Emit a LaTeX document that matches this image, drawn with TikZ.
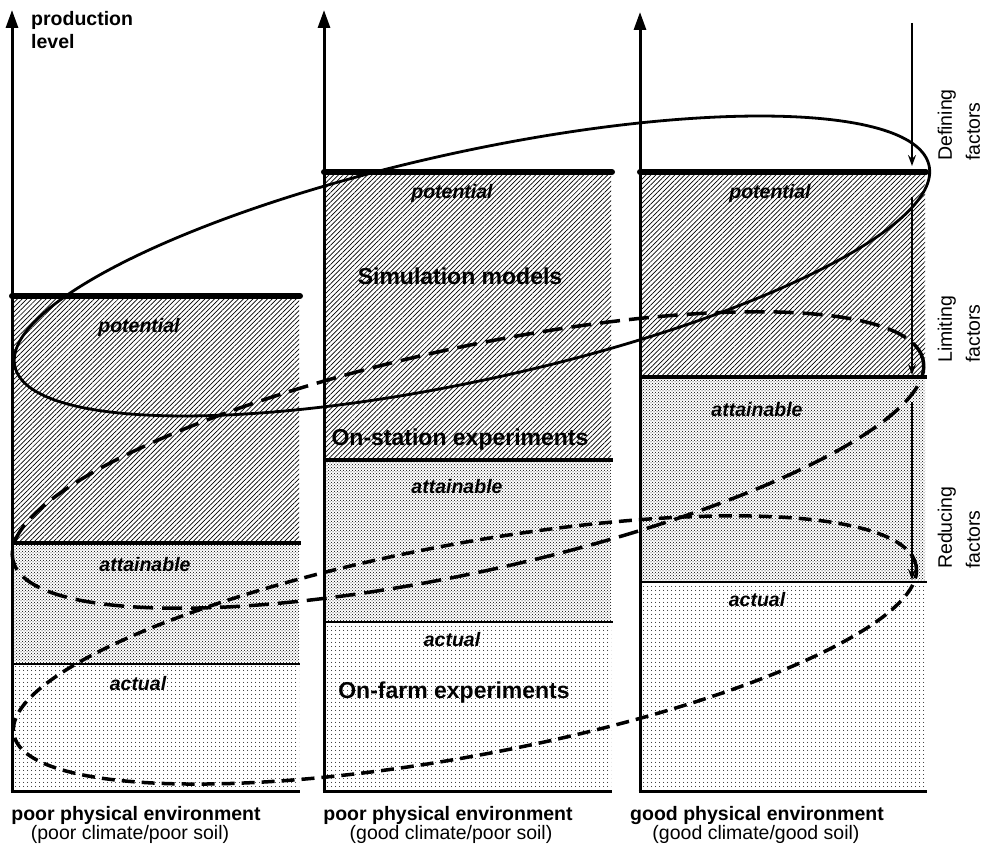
\documentclass[tikz,border=0pt]{standalone}
\usepackage{fontspec}
\setmainfont{Liberation Sans}
\usetikzlibrary{patterns,patterns.meta,arrows.meta}
\begin{document}
\begin{tikzpicture}[x=1pt,y=-1pt,
  lab/.style={font=\fontsize{19.5}{22}\selectfont\bfseries\itshape, inner sep=0},
  big/.style={font=\fontsize{23}{26}\selectfont\bfseries, inner sep=0},
  envb/.style={font=\fontsize{19.5}{22}\selectfont\bfseries, inner sep=0},
  envr/.style={font=\fontsize{19.5}{22}\selectfont, inner sep=0},
  side/.style={font=\fontsize{19.5}{28}\selectfont, rotate=90, anchor=west, align=left, inner sep=0},
  axisline/.style={line width=3pt, -{Triangle[length=18pt,width=12pt]}},
  potl/.style={line width=6pt, line cap=round},
  attl/.style={line width=4pt},
  actl/.style={line width=1.8pt},
  basel/.style={line width=3pt},
  hatch/.style={pattern={Lines[angle=45,distance=3.4pt,line width=0.7pt]}},
  densedots/.style={pattern=crosshatch dots},
  sparsedots/.style={pattern={Dots[distance=4pt,radius=0.6pt]}},
  factorarrow/.style={line width=2pt, -{Stealth[length=11pt,width=8pt,inset=4pt]}},
  solidell/.style={line width=2.8pt},
  longdash/.style={line width=3.5pt, dash pattern=on 20pt off 9pt},
  shortdash/.style={line width=3.5pt, dash pattern=on 13pt off 7pt},
]
\useasboundingbox (0,0) rectangle (983,850);

% ---------- fills ----------
% panel 1
\fill[hatch]      (12,296) rectangle (299,543);
\fill[densedots]  (12,543) rectangle (299,664);
\fill[sparsedots] (12,664) rectangle (299,791);
% panel 2
\fill[hatch]      (324,172) rectangle (611,460);
\fill[densedots]  (324,460) rectangle (611,622);
\fill[sparsedots] (324,622) rectangle (611,791);
% panel 3
\fill[hatch]      (640,172) rectangle (925,377);
\fill[densedots]  (640,377) rectangle (925,582);
\fill[sparsedots] (640,582) rectangle (925,791);

% ---------- axes ----------
\coordinate (a1b) at (12,791);  \coordinate (a1t) at (12,10);
\coordinate (a2b) at (324,791); \coordinate (a2t) at (324,10);
\coordinate (a3b) at (640,791); \coordinate (a3t) at (640,12);
\draw[axisline] (a1b) -- (a1t);
\draw[axisline] (a2b) -- (a2t);
\draw[axisline] (a3b) -- (a3t);

% ---------- level lines ----------
\draw[potl] (12,296) -- (300,296);
\draw[attl] (12,543) -- (301,543);
\draw[actl] (12,664) -- (300,664);
\draw[basel] (10.5,791) -- (300,791);

\draw[potl] (324,172) -- (612,172);
\draw[attl] (324,460) -- (613,460);
\draw[actl] (324,622) -- (613,622);
\draw[basel] (322.5,791) -- (612,791);

\draw[potl] (640,172) -- (926,172);
\draw[attl] (640,377) -- (927,377);
\draw[actl] (640,582) -- (927,582);
\draw[basel] (638.5,791) -- (927,791);

% ---------- factor arrows ----------
\coordinate (d1) at (912,23);  \coordinate (d2) at (912,166);
\coordinate (l1) at (912,197); \coordinate (l2) at (912,375);
\coordinate (r1) at (912,402); \coordinate (r2) at (912,580);
\draw[factorarrow] (d1) -- (d2);
\draw[factorarrow] (l1) -- (l2);
\draw[factorarrow] (r1) -- (r2);

% ---------- ellipses ----------
\coordinate (e1) at (472,266);
\coordinate (e2) at (468,460);
\coordinate (e3) at (465,650);
\draw[solidell, rotate around={12.4:(e1)}] (e1) ellipse [x radius=468pt, y radius=114pt];
\draw[longdash, rotate around={12.4:(e2)}] (e2) ellipse [x radius=466pt, y radius=112pt];
\draw[shortdash, rotate around={10.6:(e3)}] (e3) ellipse [x radius=459pt, y radius=106pt];

% ---------- texts ----------
\node[envb, anchor=north west, align=left, font=\fontsize{19.5}{23}\selectfont\bfseries] (prod) at (31,11) {production\\level};

\node[lab] (pot1) at (139,327) {potential};
\node[lab] (att1) at (145,565) {attainable};
\node[lab] (act1) at (138,684) {actual};

\node[lab] (pot2) at (452,193) {potential};
\node[big] (sim) at (460,276) {Simulation models};
\node[big] (onst) at (460,440) {On-station experiments};
\node[lab] (att2) at (457,487) {attainable};
\node[lab] (act2) at (452,640) {actual};
\node[big] (onfarm) at (454,693) {On-farm experiments};

\node[lab] (pot3) at (770,193) {potential};
\node[lab] (att3) at (757,410) {attainable};
\node[lab] (act3) at (757,600) {actual};

\node[envb] (env1) at (136,815) {poor physical environment};
\node[envr] (sub1) at (130,834) {(poor climate/poor soil)};
\node[envb] (env2) at (448,815) {poor physical environment};
\node[envr] (sub2) at (451,834) {(good climate/poor soil)};
\node[envb] (env3) at (757,815) {good physical environment};
\node[envr] (sub3) at (756,834) {(good climate/good soil)};

\node[side] (defin) at (959,161) {Defining\\factors};
\node[side] (limit) at (959,363) {Limiting\\factors};
\node[side] (reduc) at (959,569) {Reducing\\factors};
\end{tikzpicture}
\end{document}
